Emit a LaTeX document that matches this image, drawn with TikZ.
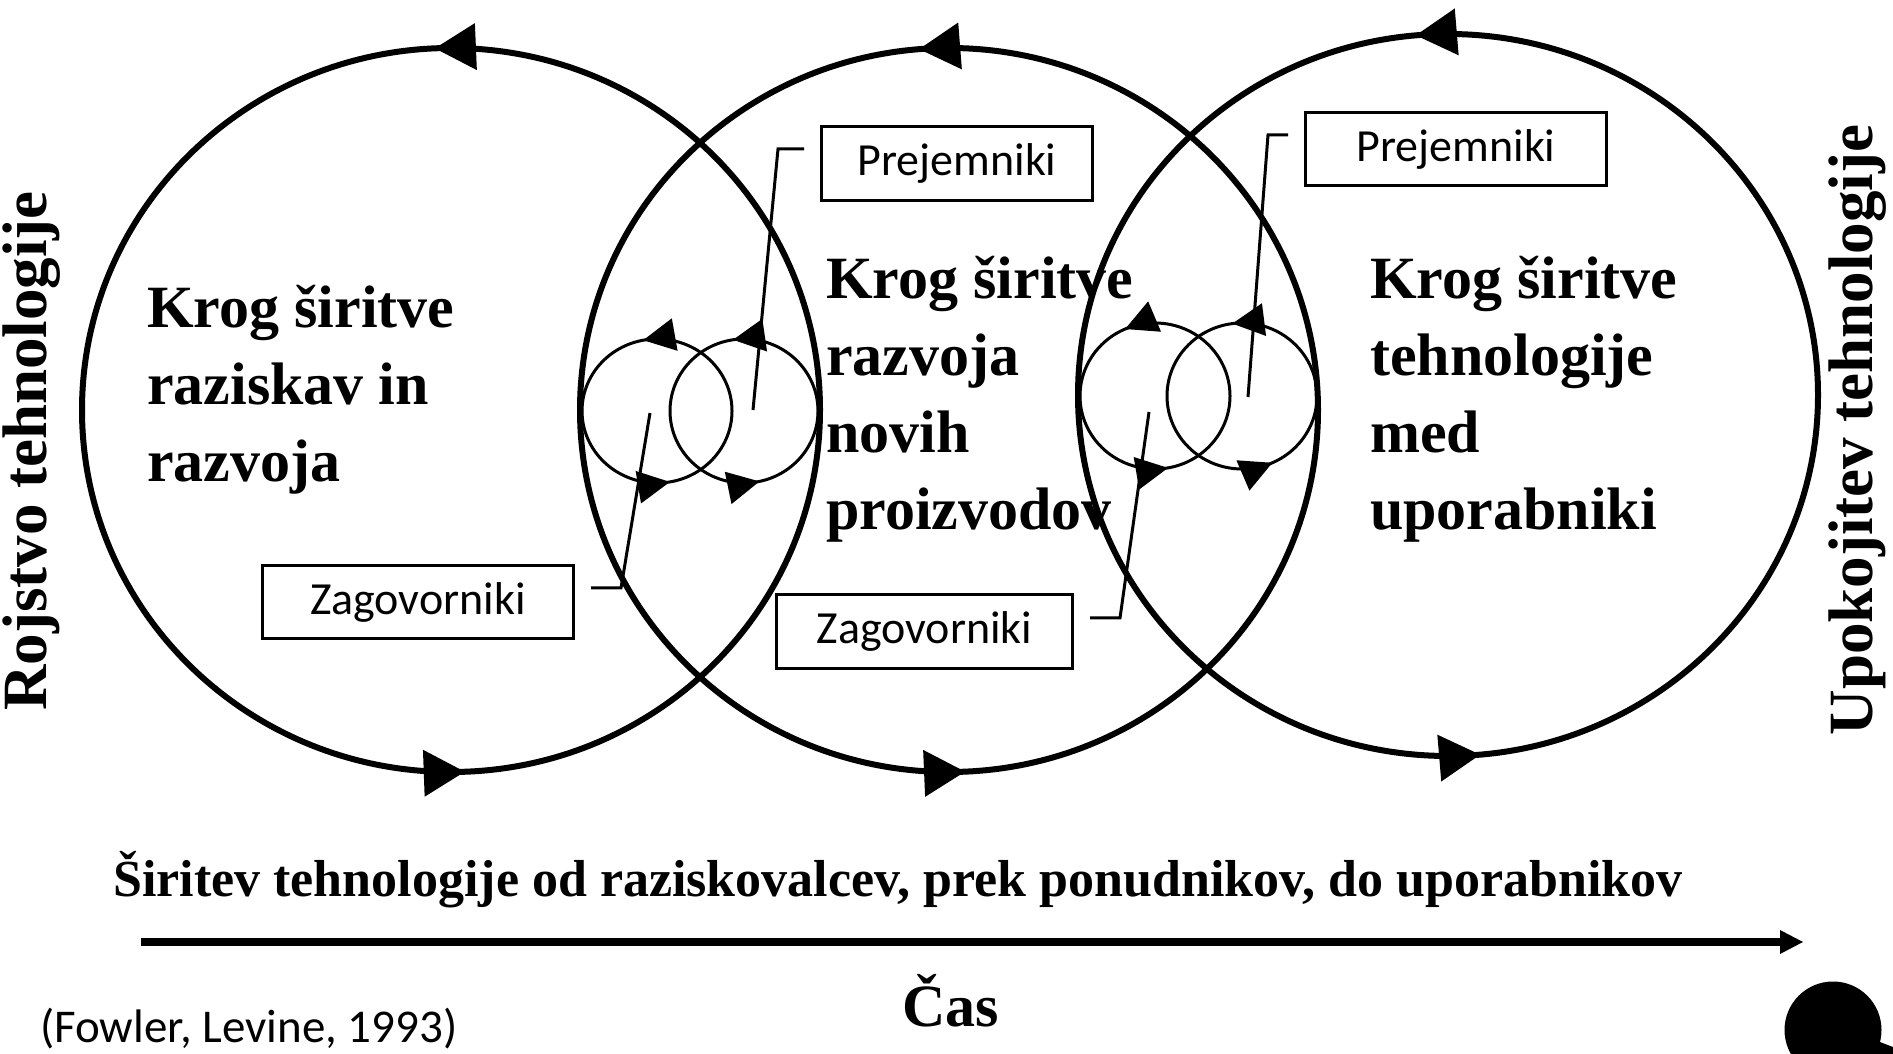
\documentclass[tikz,border=0pt]{standalone}
\usepackage{fontspec}
\setmainfont{Liberation Serif}
\newfontfamily\calib{Carlito}
\usetikzlibrary{arrows.meta,decorations.markings,calc}

\tikzset{
  bigc/.style={line width=6pt},
  smallc/.style={line width=3pt},
  bigarrows/.style 2 args={decoration={markings,
      mark=at position #1 with {\arrow{Triangle[length=41pt,width=47pt,line width=0pt]}},
      mark=at position #2 with {\arrow{Triangle[length=41pt,width=47pt,line width=0pt]}}},
    postaction={decorate}},
  smallarrows/.style 2 args={decoration={markings,
      mark=at position #1 with {\arrow{Triangle[length=32pt,width=33pt,line width=0pt]}},
      mark=at position #2 with {\arrow{Triangle[length=32pt,width=33pt,line width=0pt]}}},
    postaction={decorate}},
  lbl/.style={font=\bfseries\fontsize{60}{72}\selectfont, inner sep=0pt, anchor=base west},
  boxn/.style={draw, fill=white, line width=3pt, inner sep=0pt,
    font=\calib\fontsize{46}{55}\selectfont},
  lead/.style={line width=3pt},
  vert/.style={font=\bfseries\fontsize{63}{70}\selectfont, rotate=90, inner sep=0pt},
}

\begin{document}
\begin{tikzpicture}[x=1pt,y=1pt]
\useasboundingbox (0,0) rectangle (1893,1053);

% big circles
\draw[bigc, bigarrows={0.257}{0.756}] (451,643) ellipse [x radius=369pt, y radius=362pt];
\draw[bigc, bigarrows={0.263}{0.757}] (949,643) ellipse [x radius=369pt, y radius=362pt];
\draw[bigc, bigarrows={0.264}{0.764}] (1448,658) ellipse [x radius=370pt, y radius=361pt];

% small circles
\draw[smallc, smallarrows={0.28}{0.778}] (657,642) ellipse [x radius=75pt, y radius=72pt];
\draw[smallc, smallarrows={0.274}{0.784}] (744,642) ellipse [x radius=74pt, y radius=72pt];
\draw[smallc, smallarrows={0.316}{0.778}] (1155,657) ellipse [x radius=75pt, y radius=73pt];
\draw[smallc, smallarrows={0.271}{0.817}] (1242,657) ellipse [x radius=75pt, y radius=73pt];

% boxes
\node[boxn, minimum width=271pt, minimum height=74pt] (P1) at (957,889.5) {Prejemniki};
\node[boxn, minimum width=301pt, minimum height=73pt] (P2) at (1456,904) {Prejemniki};
\node[boxn, minimum width=311pt, minimum height=73pt] (Z1) at (418,451) {Zagovorniki};
\node[boxn, minimum width=296pt, minimum height=74pt] (Z2) at (924.5,421.5) {Zagovorniki};

% leaders
\coordinate (p1a) at ($(P1.west)+(-16,14.5)$);
\coordinate (p1b) at ($(p1a)+(-26,0)$);
\coordinate (p1c) at (753,643);
\draw[lead] (p1a) -- (p1b) -- (p1c);

\coordinate (p2a) at ($(P2.west)+(-16,14)$);
\coordinate (p2b) at ($(p2a)+(-20,0)$);
\coordinate (p2c) at (1248,656);
\draw[lead] (p2a) -- (p2b) -- (p2c);

\coordinate (z1a) at ($(Z1.east)+(16,14)$);
\coordinate (z1b) at ($(z1a)+(30,0)$);
\coordinate (z1c) at (650,640);
\draw[lead] (z1a) -- (z1b) -- (z1c);

\coordinate (z2a) at ($(Z2.east)+(16,13.5)$);
\coordinate (z2b) at ($(z2a)+(30,0)$);
\coordinate (z2c) at (1149,641);
\draw[lead] (z2a) -- (z2b) -- (z2c);

% circle labels
\node[lbl] (a1) at (147,725) {Krog širitve};
\node[lbl] (a2) at (147,648) {raziskav in};
\node[lbl] (a3) at (147,571) {razvoja};

\node[lbl] (b1) at (826,754) {Krog širitve};
\node[lbl] (b2) at (826,677) {razvoja};
\node[lbl] (b3) at (826,600) {novih};
\node[lbl] (b4) at (826,523) {proizvodov};

\node[lbl] (c1) at (1370,754) {Krog širitve};
\node[lbl] (c2) at (1370,677) {tehnologije};
\node[lbl] (c3) at (1370,600) {med};
\node[lbl] (c4) at (1370,523) {uporabniki};

% side labels
\node[vert] (birth) at (32,602) {Rojstvo tehnologije};
\node[vert] (retire) at (1858,623) {Upokojitev tehnologije};

% bottom
\node[font=\bfseries\fontsize{52}{60}\selectfont, anchor=base, inner sep=0pt] (flow) at (898,157)
  {Širitev tehnologije od raziskovalcev, prek ponudnikov, do uporabnikov};
\coordinate (t0) at (141,111);
\coordinate (t1) at (1803,111);
\draw[line width=7.5pt, -{Triangle[length=23pt,width=24pt,line width=0pt]}] (t0) -- (t1);
\node[font=\bfseries\fontsize{60}{70}\selectfont, anchor=base, inner sep=0pt] (cas) at (951,27) {Čas};
\node[font=\calib\fontsize{47}{55}\selectfont, anchor=base west, inner sep=0pt] (src) at (40,11) {(Fowler, Levine, 1993)};

% black dot at bottom right
\fill (1833,23) circle [radius=48.5pt];
\fill (1872,14) -- (1893,6) -- (1893,-10) -- (1865,-10) -- cycle;
\end{tikzpicture}
\end{document}
